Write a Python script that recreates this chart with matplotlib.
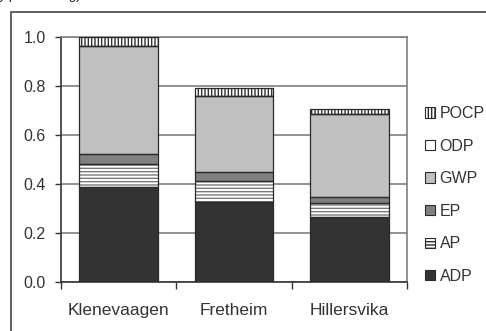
import numpy as np
import matplotlib
matplotlib.use('Agg')
import matplotlib.pyplot as plt
from matplotlib.patches import Patch, Rectangle

SITES = ['Klenevaagen', 'Fretheim', 'Hillersvika']
ADP = [0.386, 0.328, 0.267]
AP = [0.096, 0.085, 0.057]
EP = [0.039, 0.035, 0.024]
GWP = [0.442, 0.311, 0.338]
ODP = [0.0, 0.0, 0.0]
POCP = [0.037, 0.031, 0.020]
SERIES = ['ADP', 'AP', 'EP', 'GWP', 'ODP', 'POCP']
YTICKS = [0.0, 0.2, 0.4, 0.6, 0.8, 1.0]

# fill, hatch, hatch colour
STYLE = {
	'ADP': ('#333333', None, '#333333'),
	'AP': ('#ffffff', '-----', '#7a7a7a'),
	'EP': ('#808080', None, '#808080'),
	'GWP': ('#c0c0c0', None, '#c0c0c0'),
	'ODP': ('#ffffff', None, '#ffffff'),
	'POCP': ('#ffffff', '|||||', '#333333'),
}

plt.rcParams['font.family'] = ['Liberation Sans', 'DejaVu Sans']
plt.rcParams['hatch.linewidth'] = 1.0

def main():
	values = dict(ADP=ADP, AP=AP, EP=EP, GWP=GWP, ODP=ODP, POCP=POCP)
	fig = plt.figure(figsize=(4.86, 3.31), dpi=100)
	ax = fig.add_axes([61/486, 1-282/331, 346/486, 245/331])

	x = np.arange(len(SITES))
	width = 0.68
	bottom = np.zeros(len(SITES))
	handles = []
	for name in SERIES:
		v = np.array(values[name])
		fc, hatch, hc = STYLE[name]
		ax.bar(x, v, width, bottom=bottom, color=fc, hatch=hatch,
			edgecolor=hc, linewidth=0, zorder=3)
		ax.bar(x, v, width, bottom=bottom, fill=False,
			edgecolor='#2a2a2a', linewidth=0.9, zorder=4)
		bottom += v
		handles.append(Patch(facecolor=fc, hatch=hatch, edgecolor='#2a2a2a', linewidth=0.8))

	ax.set_xlim(-0.5, len(SITES) - 0.5)
	ax.set_ylim(0, 1.0)
	ax.set_yticks(YTICKS)
	ax.set_yticklabels(['%.1f' % t for t in YTICKS])
	ax.yaxis.grid(True, color='#7f7f7f', linewidth=1.2, zorder=0)
	ax.set_axisbelow(True)

	ax.set_xticks(np.arange(len(SITES) + 1) - 0.5)
	ax.set_xticklabels([])
	ax.set_xticks(x, minor=True)
	ax.set_xticklabels(SITES, minor=True)
	ax.tick_params(axis='x', which='major', length=5, width=1, color='#333333', direction='out')
	ax.tick_params(axis='x', which='minor', length=0, pad=15, labelsize=12.5, labelcolor='#333333')
	ax.tick_params(axis='y', length=4, width=1, color='#333333', pad=7, labelsize=11.5, labelcolor='#333333')

	for side in ['top', 'right']:
		ax.spines[side].set_color('#7f7f7f')
		ax.spines[side].set_linewidth(1.2)
	for side in ['left', 'bottom']:
		ax.spines[side].set_color('#333333')
		ax.spines[side].set_linewidth(1.2)

	leg = ax.legend(handles[::-1], SERIES[::-1], loc='center left',
		bbox_to_anchor=(417/486, 1-195/331), bbox_transform=fig.transFigure,
		frameon=False, borderpad=0, handlelength=0.62, handleheight=0.62,
		handletextpad=0.3, labelspacing=1.1, fontsize=11.5)
	for t in leg.get_texts():
		t.set_color('#333333')

	# outer chart frame, cut by the image edges
	fig.patches.append(Rectangle((11/486, -0.1), 1.2, 1.1 - 12/331, transform=fig.transFigure,
		fill=False, edgecolor='#444444', linewidth=1.2, clip_on=False))
	# caption above the chart, only its lower part is inside the picture
	fig.text(0.0, 1+1/331, 'y processing)', fontsize=10, style='italic',
		va='baseline', ha='left', color='#222222')

	fig.savefig('out.png', dpi=100)


if __name__ == "__main__":
	main()
